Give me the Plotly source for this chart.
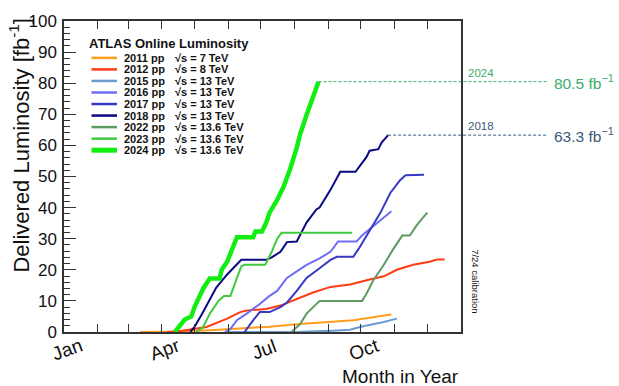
import plotly.graph_objects as go

# ---------------- data (day of year, delivered luminosity fb^-1) ----------------
years = ["2011", "2012", "2015", "2016", "2017", "2018", "2022", "2023", "2024"]
energies = ["7", "8", "13", "13", "13", "13", "13.6", "13.6", "13.6"]
colors = ["#ff9d1e", "#ff3b12", "#6b9bd1", "#6e6ef5", "#3838c4", "#080884",
          "#5f9a5f", "#3fc93f", "#11ee11"]
widths = [2, 2, 2, 2, 2, 2, 2, 2, 4.5]

day_2011 = [70, 106, 134, 162, 189, 214, 241, 266, 281, 301]
lumi_2011 = [0, 0.2, 0.6, 1.1, 1.7, 2.5, 3.2, 3.8, 4.6, 5.6]

day_2012 = [95, 107, 131, 150, 162, 168, 186, 199, 214, 229, 245, 263, 281, 294, 306, 321, 336, 343, 350]
lumi_2012 = [0, 0.3, 1.6, 4.3, 6.4, 6.9, 7.4, 8.5, 10.6, 12.7, 14.5, 15.3, 16.9, 17.9, 20.0, 21.6, 22.6, 23.3, 23.3]

day_2015 = [150, 217, 247, 263, 272, 281, 294, 306]
lumi_2015 = [0, 0.05, 0.4, 0.7, 1.6, 2.2, 3.2, 4.3]

day_2016 = [148, 153, 159, 168, 180, 189, 196, 205, 214, 223, 235, 245, 252, 269, 274, 281, 291, 301]
lumi_2016 = [0, 1.0, 3.8, 5.9, 9.0, 11.6, 13.2, 17.4, 19.5, 21.6, 23.7, 25.8, 29.1, 29.1, 31.0, 33.1, 35.8, 38.8]

day_2017 = [166, 171, 174, 180, 189, 199, 205, 214, 223, 235, 245, 251, 266, 271, 278, 284, 291, 300, 309, 314, 331]
lumi_2017 = [0, 2.5, 3.8, 6.4, 6.4, 8.0, 9.5, 13.2, 17.4, 20.5, 23.2, 24.2, 24.2, 26.8, 31.0, 34.2, 38.4, 44.7, 48.8, 50.4, 50.6]

day_2018 = [116, 120, 127, 131, 140, 150, 159, 163, 186, 191, 199, 205, 214, 223, 232, 235, 245, 254, 268, 271, 278, 281, 289, 292, 298]
lumi_2018 = [0, 1.6, 5.9, 8.5, 14.3, 18.5, 21.6, 23.2, 23.2, 24.0, 25.8, 28.9, 29.1, 35.2, 39.4, 40.0, 45.7, 51.5, 51.5, 53.0, 56.2, 58.3, 58.8, 60.9, 63.3]

day_2022 = [209, 217, 223, 235, 274, 278, 284, 294, 303, 311, 318, 324, 330, 334]
lumi_2022 = [0, 2.5, 5.9, 10.0, 10.0, 12.2, 16.4, 21.6, 26.8, 31.0, 31.0, 34.2, 36.8, 38.4]

day_2023 = [122, 128, 134, 142, 147, 153, 159, 163, 166, 185, 191, 196, 200, 265]
lumi_2023 = [0, 1.6, 5.9, 10.0, 11.6, 11.6, 17.4, 21.1, 21.6, 21.6, 25.8, 30.0, 31.9, 31.9]

day_2024 = [102, 111, 117, 120, 128, 134, 143, 145, 150, 156, 159, 174, 176, 182, 186, 189, 196, 202, 208, 214, 217, 223, 234]
lumi_2024 = [0, 4.0, 5.0, 8.0, 14.0, 17.2, 17.2, 20.0, 22.6, 28.4, 30.5, 30.5, 32.3, 32.3, 35.2, 38.4, 42.5, 46.8, 52.5, 59.3, 63.5, 69.8, 80.5]

days = [day_2011, day_2012, day_2015, day_2016, day_2017, day_2018, day_2022, day_2023, day_2024]
lumis = [lumi_2011, lumi_2012, lumi_2015, lumi_2016, lumi_2017, lumi_2018, lumi_2022, lumi_2023, lumi_2024]

month_days = [0, 31, 59, 90, 120, 151, 181, 212, 243, 273, 304, 334]
label_days = [0, 90, 181, 273]
label_text = ["Jan", "Apr", "Jul", "Oct"]

peak_years = ["2024", "2018"]
peak_values = [80.5, 63.3]
peak_colors = ["#3aae6a", "#3c5878"]

# ---------------- layout geometry ----------------
W, H = 619, 386
L, R, T, B = 64, 158, 14, 54
PW, PH = W - L - R, H - T - B


def px_x(px):
    return (px - L) / PW


def px_y(py):
    return (H - B - py) / PH


FONT = "Liberation Sans, Arial, Helvetica, sans-serif"

fig = go.Figure()
for yr, d, v, c, w in zip(years, days, lumis, colors, widths):
    fig.add_trace(go.Scatter(x=d, y=v, mode="lines", name=yr,
                             line=dict(color=c, width=w), showlegend=False))

annotations = []
shapes = []

# legend (custom, compact)
annotations.append(dict(text="<b>ATLAS Online Luminosity</b>", xref="paper", yref="paper",
                        x=px_x(87), y=px_y(37), xanchor="left", yanchor="middle",
                        showarrow=False, font=dict(size=13, color="#111", family=FONT)))
for i, (yr, en, c, w) in enumerate(zip(years, energies, colors, widths)):
    yy = px_y(51.7 + 11.8 * i)
    shapes.append(dict(type="line", xref="paper", yref="paper", x0=px_x(91.5), x1=px_x(117),
                       y0=yy, y1=yy, line=dict(color=c, width=w + 0.5)))
    annotations.append(dict(text="<b>%s pp</b>" % yr, xref="paper", yref="paper",
                            x=px_x(122), y=yy, xanchor="left", yanchor="middle", showarrow=False,
                            font=dict(size=11, color="#111", family=FONT)))
    annotations.append(dict(text="<b>\u221as = %s TeV</b>" % en, xref="paper", yref="paper",
                            x=px_x(173), y=yy, xanchor="left", yanchor="middle", showarrow=False,
                            font=dict(size=11, color="#111", family=FONT)))

# peak markers on the right
for yr, val, c in zip(peak_years, peak_values, peak_colors):
    d = days[years.index(yr)]
    shapes.append(dict(type="line", xref="paper", yref="y", x0=d[-1] / 365.0, x1=px_x(548),
                       y0=val, y1=val, line=dict(color=c, width=1, dash="3px,2px")))
    annotations.append(dict(text=yr, xref="paper", yref="y", x=px_x(466), y=val,
                            xanchor="left", yanchor="bottom", yshift=1, showarrow=False,
                            font=dict(size=11.5, color=c, family=FONT)))
    annotations.append(dict(text="%.1f fb<sup>\u22121</sup>" % val, xref="paper", yref="y",
                            x=px_x(552), y=val, xanchor="left", yanchor="middle", showarrow=False,
                            font=dict(size=15.5, color=c, family=FONT)))

# month labels
for d, t in zip(label_days, label_text):
    annotations.append(dict(text=t, xref="x", yref="paper", x=d, y=px_y(350), xshift=3,
                            xanchor="center", yanchor="middle", textangle=-20, showarrow=False,
                            font=dict(size=19, color="#111", family=FONT)))

# axis titles
annotations.append(dict(text="Month in Year", xref="paper", yref="paper", x=1.0, y=px_y(377),
                        xanchor="right", yanchor="middle", showarrow=False,
                        font=dict(size=19, color="#111", family=FONT)))
annotations.append(dict(text="Delivered Luminosity [fb<sup>-1</sup>]", xref="paper", yref="paper",
                        x=px_x(19), y=px_y(9), xanchor="center", yanchor="top", textangle=-90,
                        showarrow=False, font=dict(size=22, color="#111", family=FONT)))
annotations.append(dict(text="7/24 calibration", xref="paper", yref="paper", x=px_x(476),
                        y=px_y(280), xanchor="center", yanchor="middle", textangle=90,
                        showarrow=False, font=dict(size=9.5, color="#111", family=FONT)))

fig.update_layout(
    width=W, height=H,
    margin=dict(l=L, r=R, t=T, b=B, pad=0),
    paper_bgcolor="white", plot_bgcolor="white",
    showlegend=False,
    font=dict(family=FONT, color="#111"),
    xaxis=dict(range=[0, 365], tickmode="array", tickvals=month_days, showticklabels=False,
               ticks="inside", ticklen=8, tickwidth=1, tickcolor="#333",
               showline=True, linecolor="#333", linewidth=1.5, mirror="ticks",
               showgrid=False, zeroline=False),
    yaxis=dict(range=[0, 100], dtick=10, ticks="inside", ticklen=12, tickwidth=1, tickcolor="#333",
               minor=dict(dtick=2, ticks="inside", ticklen=6, tickcolor="#333"),
               showline=True, linecolor="#333", linewidth=1.5, mirror=True,
               showgrid=False, zeroline=False, tickfont=dict(size=17, color="#111"),
               ticklabelstandoff=2),
    yaxis2=dict(range=[0, 100], dtick=10, overlaying="y", side="right", anchor="x",
                ticks="inside", ticklen=7, tickwidth=1, tickcolor="#333",
                minor=dict(dtick=2, ticks="inside", ticklen=4, tickcolor="#333"),
                showticklabels=False, showgrid=False, zeroline=False, showline=False),
    annotations=annotations,
    shapes=shapes,
)

fig.write_html("out.html")
